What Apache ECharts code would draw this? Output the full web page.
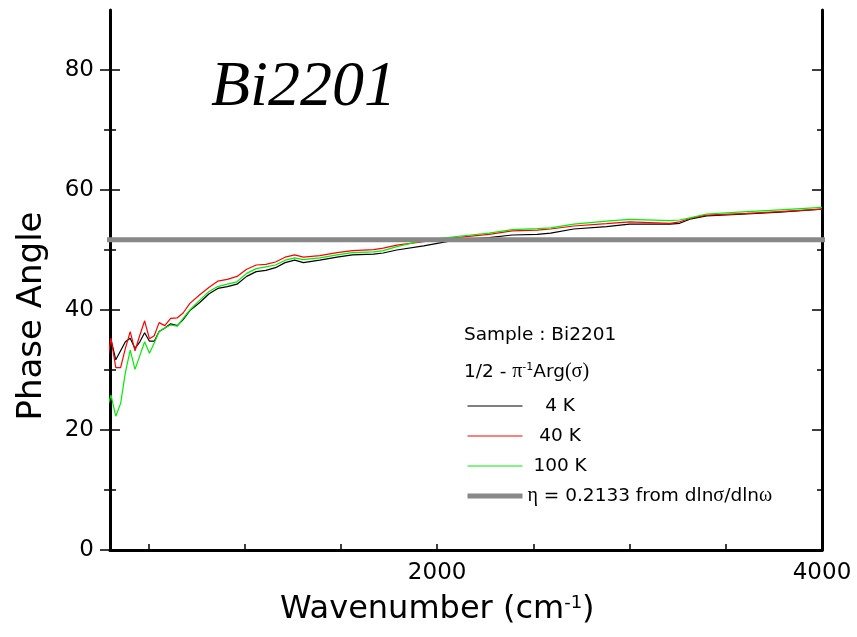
<!DOCTYPE html>
<html>
<head>
<meta charset="utf-8">
<script src="https://cdn.jsdelivr.net/npm/echarts@6/dist/echarts.min.js"></script>
<style>
  html, body { margin: 0; padding: 0; background: #fff; }
  #main { width: 857px; height: 637px; }
</style>
</head>
<body>
<div id="main"></div>
<script>
    // wavenumber (cm-1)
    var wavenumber = [280, 305, 330, 355, 380, 405, 430, 455, 480, 505, 530, 555, 585, 615, 650, 680, 715, 765, 815, 860,
        910, 960, 1010, 1060, 1110, 1160, 1210, 1260, 1305, 1390, 1480, 1560, 1670, 1720, 1790, 1930, 2100, 2270, 2390, 2520,
        2590, 2710, 2880, 3000, 3210, 3260, 3320, 3400, 3610, 3780, 4000];

    var phase4K = [30.3, 35.1, 31.7, 33.2, 34.7, 35.3, 33.6, 34.7, 36.2, 34.8, 34.8, 36.4, 37.0, 37.7, 37.4, 38.4, 39.9, 41.2, 42.7, 43.6,
        43.9, 44.3, 45.6, 46.4, 46.6, 47.05, 47.9, 48.3, 47.9, 48.3, 48.8, 49.2, 49.3, 49.5, 50.0, 50.7, 51.7, 52.05, 52.5, 52.6,
        52.8, 53.5, 53.9, 54.3, 54.3, 54.45, 55.2, 55.7, 56.0, 56.3, 56.8];

    var phase40K = [30.1, 35.3, 30.4, 30.4, 33.6, 36.4, 33.2, 35.8, 38.2, 35.2, 35.7, 37.9, 37.4, 38.6, 38.7, 39.5, 41.1, 42.5, 43.8, 44.8,
        45.1, 45.6, 46.8, 47.5, 47.6, 48.0, 48.8, 49.2, 48.8, 49.05, 49.55, 49.9, 50.05, 50.3, 50.8, 51.4, 52.05, 52.6, 53.2, 53.3,
        53.5, 54.0, 54.4, 54.7, 54.45, 54.7, 55.3, 55.8, 56.1, 56.4, 56.8];

    var phase100K = [23.1, 25.8, 22.3, 24.4, 29.6, 33.3, 30.1, 32.4, 34.7, 32.8, 34.5, 36.4, 37.0, 37.5, 37.3, 38.6, 40.0, 41.6, 43.1, 43.9,
        44.3, 44.7, 46.1, 46.9, 47.2, 47.5, 48.3, 48.7, 48.4, 48.7, 49.2, 49.55, 49.7, 49.9, 50.55, 51.6, 52.25, 52.8, 53.4, 53.55,
        53.7, 54.3, 54.8, 55.1, 54.9, 55.0, 55.4, 56.0, 56.4, 56.7, 57.1];

    // eta line: 1/2 - pi^-1 Arg from dln(sigma)/dln(omega)
    var etaSpan = [258, 4061];
    var etaPhase = 51.7;

    var xTicks = [500, 1000, 1500, 2000, 2500, 3000, 3500, 4000];
    var xLabels = [2000, 4000];
    var yMajor = [0, 20, 40, 60, 80];
    var yMinor = [10, 30, 50, 70];

    var seriesNames = ['4 K', '40 K', '100 K', 'η = 0.2133 from dlnσ/dlnω'];

    function pairs(xs, ys) {
        return xs.map(function (x, i) { return [x, ys[i]]; });
    }

    var sans = 'DejaVu Sans';
    var serif = 'Liberation Serif';

    var myChart = echarts.init(document.getElementById('main'));

    function yAxisBase(extra) {
        var axis = {
            type: 'value',
            min: 0,
            max: 90,
            splitLine: { show: false },
            axisLine: { show: false },
            axisTick: { show: false },
            axisLabel: { show: false }
        };
        for (var k in extra) axis[k] = extra[k];
        return axis;
    }

    var option = {
        animation: false,
        backgroundColor: '#fff',
        grid: { left: 110, right: 35, top: 10, bottom: 87 },
        xAxis: [
            {
                type: 'value',
                min: 300,
                max: 4000,
                position: 'bottom',
                splitLine: { show: false },
                axisLine: { lineStyle: { color: '#000', width: 3 } },
                axisTick: { inside: true, length: 6, customValues: xTicks, lineStyle: { color: '#000', width: 1.5 } },
                axisLabel: {
                    customValues: xLabels, color: '#000', fontFamily: sans, fontSize: 23, margin: 12,
                    formatter: function (v) { return String(v); }
                }
            },
            {
                type: 'value',
                min: 300,
                max: 4000,
                position: 'top',
                splitLine: { show: false },
                axisLine: { lineStyle: { color: '#000', width: 2 } },
                axisTick: { show: false },
                axisLabel: { show: false }
            }
        ],
        yAxis: [
            yAxisBase({
                position: 'left',
                axisLine: { show: true, lineStyle: { color: '#000', width: 3 } },
                axisLabel: { show: true, customValues: yMajor, color: '#000', fontFamily: sans, fontSize: 23, margin: 16 }
            }),
            // major ticks crossing the left axis
            yAxisBase({
                position: 'left', offset: -10,
                axisTick: { show: true, length: 20, customValues: yMajor, lineStyle: { color: '#000', width: 1.5 } }
            }),
            // minor ticks crossing the left axis
            yAxisBase({
                position: 'left', offset: -6,
                axisTick: { show: true, length: 12, customValues: yMinor, lineStyle: { color: '#000', width: 1.5 } }
            }),
            yAxisBase({
                position: 'right',
                axisLine: { show: true, lineStyle: { color: '#000', width: 3 } },
                axisTick: { show: true, inside: true, length: 10, customValues: yMajor, lineStyle: { color: '#000', width: 1.5 } }
            }),
            yAxisBase({
                position: 'right',
                axisTick: { show: true, inside: true, length: 5, customValues: yMinor, lineStyle: { color: '#000', width: 1.5 } }
            })
        ],
        legend: {
            orient: 'vertical',
            left: 460,
            top: 391,
            itemWidth: 55,
            itemHeight: 20,
            itemGap: 10,
            selectedMode: false,
            itemStyle: { opacity: 0 },
            data: [
                { name: seriesNames[0], lineStyle: { width: 1.2 } },
                { name: seriesNames[1], lineStyle: { width: 1.2 } },
                { name: seriesNames[2], lineStyle: { width: 1.2 } },
                { name: seriesNames[3], lineStyle: { width: 5 } }
            ],
            textStyle: {
                color: '#000', fontFamily: sans, fontSize: 18.5, lineHeight: 20,
                rich: { g: { fontFamily: serif, fontSize: 20, color: '#000' } }
            },
            formatter: function (name) {
                if (name === '4 K') return '   4 K';
                if (name === '40 K') return '  40 K';
                if (name === '100 K') return ' 100 K';
                return '{g|η} = 0.2133 from dln{g|σ}/dln{g|ω}';
            }
        },
        series: [
            {
                name: seriesNames[0], type: 'line', data: pairs(wavenumber, phase4K),
                showSymbol: false, symbol: 'none', clip: false,
                itemStyle: { color: '#000' }, lineStyle: { color: '#000', width: 1.2 }
            },
            {
                name: seriesNames[1], type: 'line', data: pairs(wavenumber, phase40K),
                showSymbol: false, symbol: 'none', clip: false,
                itemStyle: { color: '#ff0000' }, lineStyle: { color: '#ff0000', width: 1.2 }
            },
            {
                name: seriesNames[2], type: 'line', data: pairs(wavenumber, phase100K),
                showSymbol: false, symbol: 'none', clip: false,
                itemStyle: { color: '#00ee00' }, lineStyle: { color: '#00ee00', width: 1.2 }
            },
            {
                name: seriesNames[3], type: 'line',
                data: [[etaSpan[0], etaPhase], [etaSpan[1], etaPhase]],
                showSymbol: false, symbol: 'none', clip: false,
                itemStyle: { color: '#888' }, lineStyle: { color: '#888', width: 5 }
            }
        ],
        graphic: [
            {
                type: 'text', left: 211, top: 56,
                style: { text: 'Bi2201', fill: '#000', font: 'italic 64px "Liberation Serif"' }
            },
            {
                type: 'text', x: 32, y: 316, rotation: Math.PI / 2,
                style: { text: 'Phase Angle', fill: '#000', font: '34px "DejaVu Sans"', align: 'center', verticalAlign: 'middle' }
            },
            {
                type: 'text', left: 280, top: 594,
                style: {
                    text: 'Wavenumber (cm{s|-1})', fill: '#000', font: '32px "DejaVu Sans"',
                    rich: { s: { fontSize: 18, fontFamily: sans, verticalAlign: 'top', fill: '#000' } }
                }
            },
            {
                type: 'text', left: 464, top: 326,
                style: { text: 'Sample : Bi2201', fill: '#000', font: '18.5px "DejaVu Sans"' }
            },
            {
                type: 'text', left: 464, top: 362,
                style: {
                    text: '1/2 - {p|π}{s|-1}Arg{p|(σ)}', fill: '#000', font: '18.5px "DejaVu Sans"',
                    rich: {
                        p: { fontFamily: serif, fontSize: 20, fill: '#000' },
                        s: { fontFamily: sans, fontSize: 11, verticalAlign: 'top', fill: '#000' }
                    }
                }
            }
        ]
    };

    myChart.setOption(option);
</script>
</body>
</html>
